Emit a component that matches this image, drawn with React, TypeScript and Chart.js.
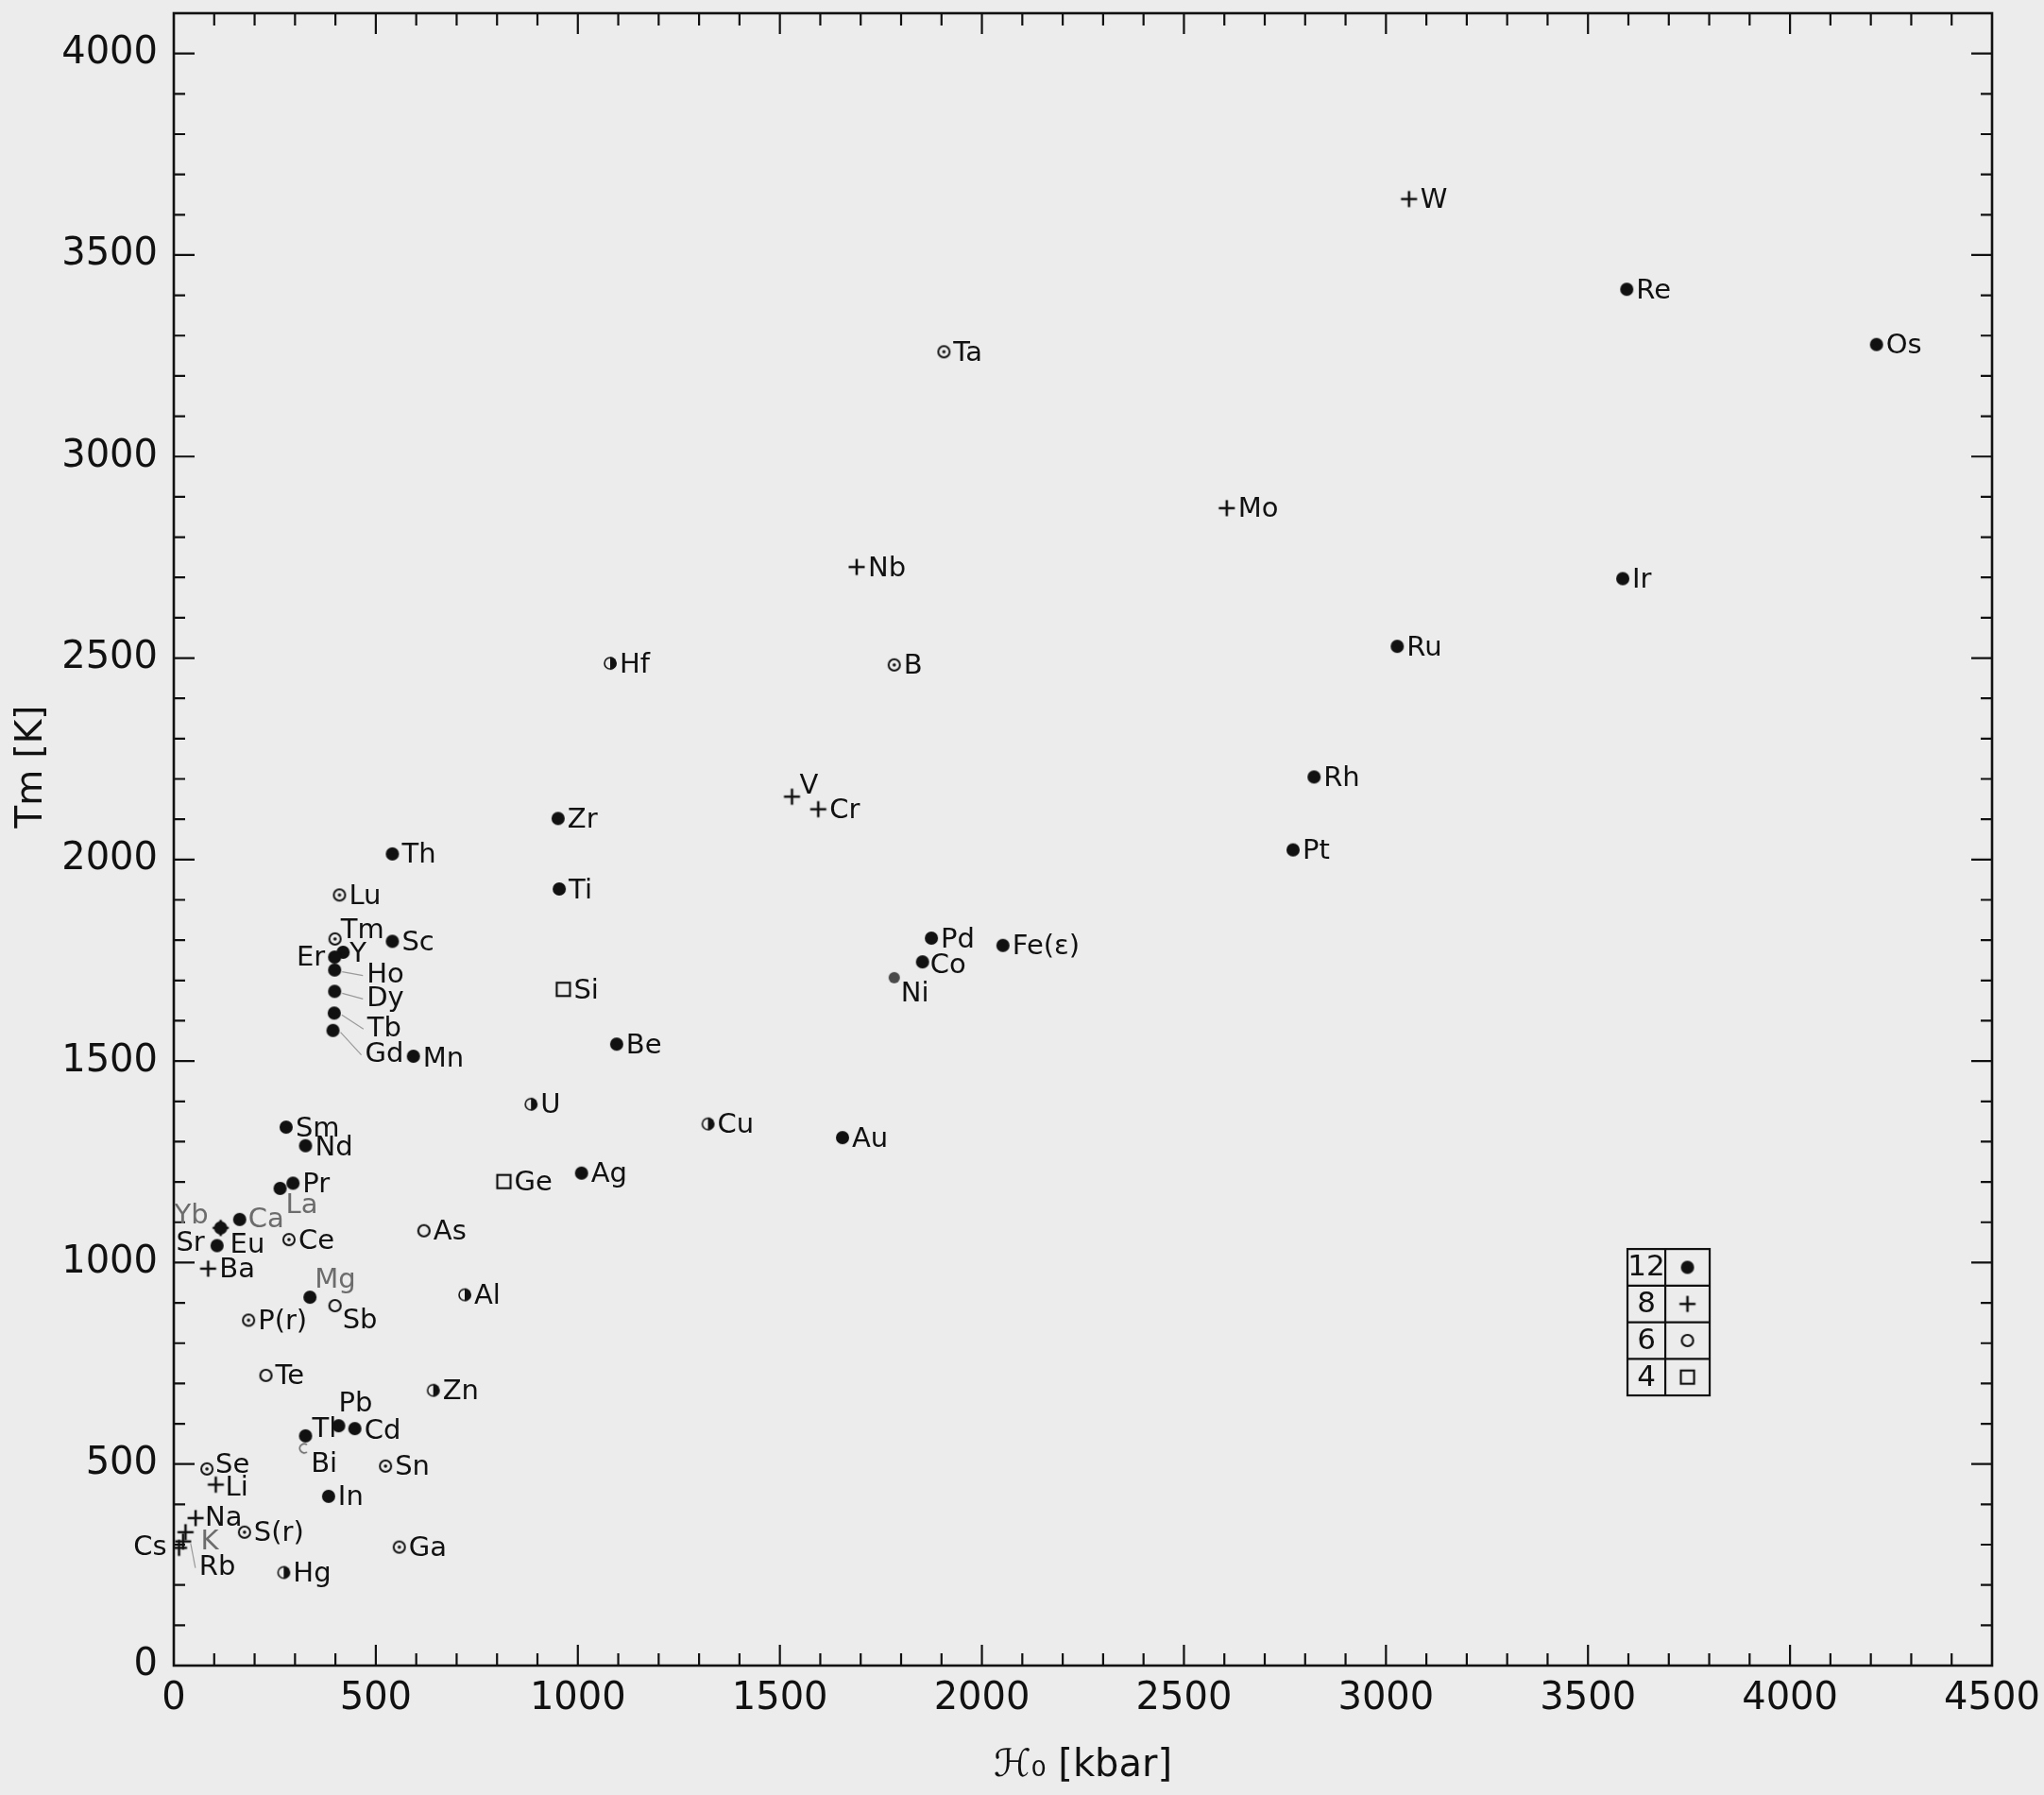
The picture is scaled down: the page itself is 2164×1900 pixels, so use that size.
import React, { useEffect, useRef } from "react";
import { Chart, registerables } from "chart.js";

Chart.register(...registerables);

// ---------- data (bulk modulus K0 [kbar] vs melting temperature Tm [K]) ----------
// coordination number 12 – filled circles
const cn12Names = ["Re", "Os", "Ir", "Ru", "Rh", "Pt", "Zr", "Ti", "Th", "Sc", "Y", "Er", "Ho", "Dy", "Tb", "Gd", "Mn", "Be", "Ag", "Au", "Pd", "Co", "Ni", "Fe(ε)", "Sm", "Nd", "Pr", "La", "Ca", "Yb", "Sr", "Mg", "Pb", "Cd", "Tl", "In"];
const cn12K = [3596, 4214, 3586, 3028, 2822, 2770, 951, 954, 541, 541, 419, 398, 398, 398, 397, 394, 593, 1096, 1009, 1655, 1875, 1853, 1783, 2052, 278, 326, 295, 263, 163, 116, 107, 337, 408, 448, 326, 383];
const cn12Tm = [3415, 3278, 2697, 2529, 2205, 2024, 2102, 1927, 2014, 1797, 1770, 1758, 1726, 1673, 1619, 1576, 1512, 1542, 1222, 1310, 1805, 1746, 1707, 1787, 1336, 1290, 1197, 1184, 1107, 1086, 1042, 914, 595, 588, 570, 420];

// coordination number 8 – crosses
const cn8Names = ["W", "Mo", "Nb", "V", "Cr", "Eu", "Ba", "Li", "Na", "K", "Rb", "Cs"];
const cn8K = [3057, 2606, 1690, 1530, 1595, 116, 85, 104, 54, 29, 23, 13];
const cn8Tm = [3639, 2872, 2726, 2156, 2125, 1086, 985, 449, 366, 331, 308, 292];

// coordination number 6 – circles with centre dot
const cn6Names = ["Ta", "B", "Lu", "Tm", "Ce", "P(r)", "Se", "Sn", "S(r)", "Ga"];
const cn6K = [1906, 1783, 410, 399, 285, 185, 82, 524, 175, 558];
const cn6Tm = [3260, 2483, 1912, 1803, 1057, 857, 488, 495, 331, 294];

// coordination number 6 – open circles
const cn6oNames = ["As", "Sb", "Te", "Bi"];
const cn6oK = [619, 399, 228, 323];
const cn6oTm = [1079, 893, 720, 539];

// coordination number 4 – squares
const cn4Names = ["Si", "Ge"];
const cn4K = [964, 817];
const cn4Tm = [1678, 1201];

// 6+6 – half filled circles
const cnHalfNames = ["Hf", "U", "Cu", "Al", "Zn", "Hg"];
const cnHalfK = [1080, 884, 1322, 720, 642, 272];
const cnHalfTm = [2487, 1393, 1344, 920, 683, 231];

// legend table
const legendNumbers = ["12", "8", "6", "4"];

// axes
const xMin = 0, xMax = 4500, yMin = 0, yMax = 4100;
const minorStep = 100, majorStep = 500;
const xTitle = "ℋ₀ [kbar]";
const yTitle = "Tm [K]";

// ---------- layout / style (not data) ----------
const W = 2164, H = 1900;
const FONT = "'DejaVu Sans', 'Liberation Sans', sans-serif";
const INK = "#111111";
const GRAY = "#6c6c6c";
const BG = "#ececec";

type LabelOpt = { dx?: number; dy?: number; align?: CanvasTextAlign; gray?: boolean; lead?: boolean };
const labelLayout: Record<string, LabelOpt> = {
  V: { dx: 8, dy: -11 },
  Ni: { dx: 7, dy: 18 },
  Co: { dx: 8, dy: 4 },
  Tm: { dx: 6, dy: -8 },
  Y: { dx: 7, dy: 3 },
  Er: { dx: -10, dy: 1, align: "right" },
  Ho: { dx: 34, dy: 6, lead: true },
  Dy: { dx: 34, dy: 8, lead: true },
  Tb: { dx: 35, dy: 17, lead: true },
  Gd: { dx: 34, dy: 26, lead: true },
  La: { dx: 6, dy: 19, gray: true },
  Ca: { dx: 9, dy: 1, gray: true },
  Yb: { dx: -13, dy: -12, align: "right", gray: true },
  Sr: { dx: -13, dy: -2, align: "right" },
  Eu: { dx: 10, dy: 19 },
  Mg: { dx: 5, dy: -18, gray: true },
  Sb: { dx: 8, dy: 16 },
  Pb: { dx: 0, dy: -23 },
  Tl: { dx: 7, dy: -6 },
  Bi: { dx: 7, dy: 17 },
  K: { dx: 16, dy: 11, gray: true },
  Cs: { dx: -13, dy: 0, align: "right" },
  Rb: { dx: 17, dy: 28, lead: true },
  Li: { dx: 10, dy: 4 },
  Se: { dx: 9, dy: -3 },
  Cd: { dx: 10, dy: 3 },
  Mn: { dx: 10, dy: 3 },
  Nd: { dx: 10, dy: 3 },
  Na: { dx: 10, dy: 1 },
};

function makeMarker(kind: string, color: string = INK): HTMLCanvasElement {
  const c = document.createElement("canvas");
  c.width = 26;
  c.height = 26;
  const g = c.getContext("2d")!;
  g.translate(13, 13);
  g.strokeStyle = color;
  g.fillStyle = color;
  g.lineWidth = 2;
  const circle = (r: number) => {
    g.beginPath();
    g.arc(0, 0, r, 0, Math.PI * 2);
  };
  switch (kind) {
    case "dot":
      circle(7);
      g.fill();
      break;
    case "smalldot":
      circle(6);
      g.fill();
      break;
    case "plus":
      g.lineWidth = 2.6;
      g.beginPath();
      g.moveTo(-8.5, 0);
      g.lineTo(8.5, 0);
      g.moveTo(0, -8.5);
      g.lineTo(0, 8.5);
      g.stroke();
      break;
    case "odot":
      g.lineWidth = 2;
      circle(6);
      g.stroke();
      circle(1.8);
      g.fill();
      break;
    case "open":
      g.lineWidth = 2.2;
      circle(6);
      g.stroke();
      break;
    case "bi":
      g.lineWidth = 1.8;
      g.beginPath();
      g.arc(0, 0, 4.8, Math.PI * 0.3, Math.PI * 1.7);
      g.stroke();
      break;
    case "square":
      g.lineWidth = 2.2;
      g.strokeRect(-7, -7, 14, 14);
      break;
    case "half":
      g.lineWidth = 1.6;
      circle(6);
      g.stroke();
      g.beginPath();
      g.arc(0, 0, 6.8, -Math.PI / 2, Math.PI / 2);
      g.closePath();
      g.fill();
      break;
  }
  return c;
}

const toPoints = (xs: number[], ys: number[]) => xs.map((x, i) => ({ x, y: ys[i] }));

export default function App() {
  const ref = useRef<HTMLCanvasElement>(null);

  useEffect(() => {
    const canvas = ref.current!;
    const mk = {
      dot: makeMarker("dot"),
      ni: makeMarker("smalldot", "#4a4a4a"),
      plus: makeMarker("plus"),
      odot: makeMarker("odot"),
      open: makeMarker("open"),
      bi: makeMarker("bi", GRAY),
      square: makeMarker("square"),
      half: makeMarker("half"),
    };

    const bgPlugin = {
      id: "bg",
      beforeDraw(chart: any) {
        const ctx = chart.ctx;
        ctx.save();
        ctx.fillStyle = BG;
        ctx.fillRect(0, 0, chart.width, chart.height);
        ctx.restore();
      },
    };

    const framePlugin = {
      id: "frame",
      beforeDatasetsDraw(chart: any) {
        const { ctx, chartArea: a, scales } = chart;
        const xs = scales.x, ys = scales.y;
        ctx.save();
        ctx.strokeStyle = INK;
        ctx.lineWidth = 2.6;
        ctx.strokeRect(a.left, a.top, a.right - a.left, a.bottom - a.top);
        ctx.lineWidth = 2.2;
        ctx.beginPath();
        xs.ticks.forEach((t: any) => {
          if (t.value <= xMin || t.value >= xMax) return;
          const px = xs.getPixelForValue(t.value);
          const len = t.value % majorStep === 0 ? 22 : 13;
          ctx.moveTo(px, a.bottom);
          ctx.lineTo(px, a.bottom - len);
          ctx.moveTo(px, a.top);
          ctx.lineTo(px, a.top + len);
        });
        ys.ticks.forEach((t: any) => {
          if (t.value <= yMin || t.value >= yMax) return;
          const py = ys.getPixelForValue(t.value);
          const len = t.value % majorStep === 0 ? 22 : 12;
          ctx.moveTo(a.left, py);
          ctx.lineTo(a.left + len, py);
          ctx.moveTo(a.right, py);
          ctx.lineTo(a.right - len, py);
        });
        ctx.stroke();
        ctx.restore();
      },
    };

    const labelPlugin = {
      id: "pointLabels",
      afterDatasetsDraw(chart: any) {
        const ctx = chart.ctx;
        ctx.save();
        ctx.font = `29px ${FONT}`;
        ctx.textBaseline = "middle";
        chart.data.datasets.forEach((ds: any, i: number) => {
          const meta = chart.getDatasetMeta(i);
          meta.data.forEach((el: any, j: number) => {
            const name = ds.names[j];
            const o: LabelOpt = { dx: ds.labelDx, dy: 2, ...(labelLayout[name] || {}) };
            const tx = el.x + (o.dx as number);
            const ty = el.y + (o.dy as number);
            if (o.lead) {
              ctx.strokeStyle = "#9a9a9a";
              ctx.lineWidth = 1.2;
              ctx.beginPath();
              ctx.moveTo(el.x + 8, el.y + 2);
              ctx.lineTo(tx - 4, ty);
              ctx.stroke();
            }
            ctx.fillStyle = o.gray ? GRAY : INK;
            ctx.textAlign = o.align || "left";
            ctx.fillText(name, tx, ty);
          });
        });
        ctx.restore();
      },
    };

    const legendPlugin = {
      id: "cnTable",
      afterDraw(chart: any) {
        const { ctx, chartArea: a } = chart;
        const w = a.right - a.left, h = a.bottom - a.top;
        const left = a.left + w * 0.7995;
        const mid = a.left + w * 0.8203;
        const right = a.left + w * 0.8447;
        const top = a.top + h * 0.7479;
        const bottom = a.top + h * 0.8365;
        const rowH = (bottom - top) / legendNumbers.length;
        const syms = [mk.dot, mk.plus, mk.open, mk.square];
        ctx.save();
        ctx.strokeStyle = INK;
        ctx.lineWidth = 2.2;
        ctx.strokeRect(left, top, right - left, bottom - top);
        ctx.beginPath();
        ctx.moveTo(mid, top);
        ctx.lineTo(mid, bottom);
        for (let r = 1; r < legendNumbers.length; r++) {
          ctx.moveTo(left, top + r * rowH);
          ctx.lineTo(right, top + r * rowH);
        }
        ctx.stroke();
        ctx.fillStyle = INK;
        ctx.font = `31px ${FONT}`;
        ctx.textAlign = "center";
        ctx.textBaseline = "middle";
        legendNumbers.forEach((n, r) => {
          const cy = top + (r + 0.5) * rowH;
          ctx.fillText(n, (left + mid) / 2, cy + 1);
          const s = syms[r];
          ctx.drawImage(s, (mid + right) / 2 - s.width / 2, cy - s.height / 2);
        });
        ctx.restore();
      },
    };

    const yTitlePlugin = {
      id: "yTitle",
      afterDraw(chart: any) {
        const { ctx, chartArea: a } = chart;
        ctx.save();
        ctx.translate(34, a.top + (a.bottom - a.top) * 0.456);
        ctx.rotate(-Math.PI / 2);
        ctx.font = `39px ${FONT}`;
        ctx.fillStyle = INK;
        ctx.textAlign = "center";
        ctx.textBaseline = "middle";
        ctx.fillText(yTitle, 0, 0);
        ctx.restore();
      },
    };

    const tickFont = { family: FONT, size: 40 };
    const majorOnly = (v: any) => (Number(v) % majorStep === 0 ? String(v) : "");

    const chart = new Chart(canvas, {
      type: "scatter",
      data: {
        datasets: [
          { label: "12", names: cn12Names, labelDx: 10, data: toPoints(cn12K, cn12Tm), pointStyle: (c: any) => (cn12Names[c.dataIndex] === "Ni" ? mk.ni : mk.dot), pointRadius: 6 },
          { label: "8", names: cn8Names, labelDx: 12, data: toPoints(cn8K, cn8Tm), pointStyle: mk.plus, pointRadius: 6 },
          { label: "6", names: cn6Names, labelDx: 10, data: toPoints(cn6K, cn6Tm), pointStyle: mk.odot, pointRadius: 6 },
          { label: "6 open", names: cn6oNames, labelDx: 10, data: toPoints(cn6oK, cn6oTm), pointStyle: (c: any) => (cn6oNames[c.dataIndex] === "Bi" ? mk.bi : mk.open), pointRadius: 6 },
          { label: "4", names: cn4Names, labelDx: 11, data: toPoints(cn4K, cn4Tm), pointStyle: mk.square, pointRadius: 6 },
          { label: "6+6", names: cnHalfNames, labelDx: 10, data: toPoints(cnHalfK, cnHalfTm), pointStyle: mk.half, pointRadius: 6 },
        ] as any,
      },
      options: {
        responsive: false,
        animation: false,
        devicePixelRatio: 1,
        layout: { padding: { left: 0, top: 14, right: 55, bottom: 0 } },
        plugins: { legend: { display: false }, tooltip: { enabled: false } },
        scales: {
          x: {
            type: "linear",
            min: xMin,
            max: xMax,
            grid: { display: false, drawTicks: false },
            border: { display: false },
            ticks: { stepSize: minorStep, autoSkip: false, maxRotation: 0, minRotation: 0, padding: 12, font: tickFont, color: INK, callback: majorOnly },
            title: { display: true, text: xTitle, color: INK, font: { family: FONT, size: 40 }, padding: { top: 0, bottom: 6 } },
            afterFit: (s: any) => {
              s.height = 137;
              s.paddingLeft = 0;
              s.paddingRight = 0;
            },
          },
          y: {
            type: "linear",
            min: yMin,
            max: yMax,
            grid: { display: false, drawTicks: false },
            border: { display: false },
            ticks: { stepSize: minorStep, autoSkip: false, padding: 17, font: tickFont, color: INK, callback: majorOnly },
            afterFit: (s: any) => {
              s.width = 184;
              s.paddingTop = 0;
              s.paddingBottom = 0;
            },
          },
        },
      } as any,
      plugins: [bgPlugin, framePlugin, labelPlugin, legendPlugin, yTitlePlugin],
    });
    return () => chart.destroy();
  }, []);

  return (
    <div style={{ position: "fixed", left: 0, top: 0, width: W, height: H, overflow: "hidden", background: BG }}>
      <canvas ref={ref} width={W} height={H} style={{ width: W, height: H, display: "block" }} />
    </div>
  );
}
